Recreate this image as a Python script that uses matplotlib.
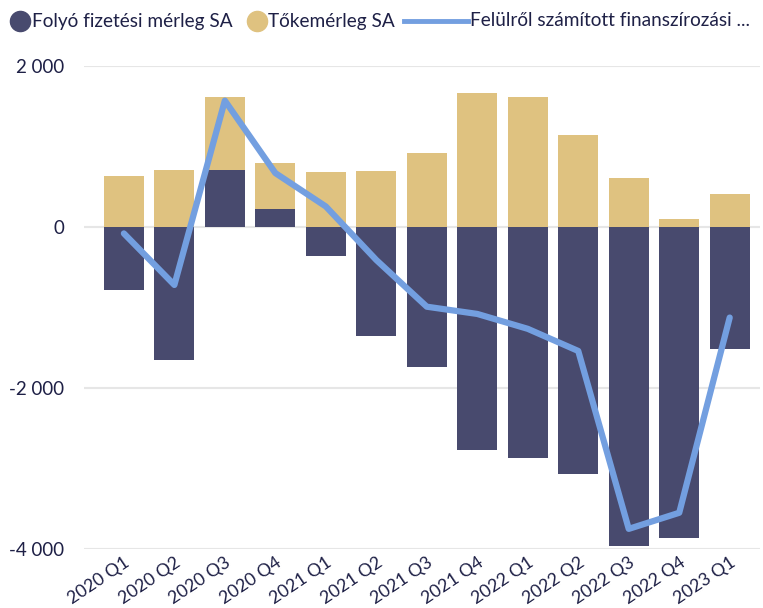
import matplotlib.pyplot as plt
import numpy as np
from matplotlib.lines import Line2D

plt.rcParams['font.family'] = ['Lato', 'DejaVu Sans']

# quarters on the x axis
quarters = ['2020 Q1', '2020 Q2', '2020 Q3', '2020 Q4',
            '2021 Q1', '2021 Q2', '2021 Q3', '2021 Q4',
            '2022 Q1', '2022 Q2', '2022 Q3', '2022 Q4', '2023 Q1']

# current account SA
current_acc = [-780, -1650, 710, 225, -365, -1350, -1735, -2770,
               -2870, -3065, -3965, -3865, -1515]
# capital account SA
capital_acc = [635, 710, 905, 570, 685, 695, 920, 1665,
               1615, 1145, 610, 100, 410]
# financing from above
financing = [-80, -720, 1570, 670, 255, -410, -990, -1080,
             -1265, -1540, -3750, -3550, -1125]

labels = ['Folyó fizetési mérleg SA', 'Tőkemérleg SA',
          'Felülről számított finanszírozási ...']

dark = '#484A6E'
gold = '#DFC280'
blue = '#739FE0'
text_col = '#1E2046'

x = np.arange(len(quarters))
cur = np.array(current_acc)
cap = np.array(capital_acc)
# capital bar sits on top of the positive part of the current account
cap_bottom = np.where(cur > 0, cur, 0)

fig = plt.figure(figsize=(7.63, 6.08), dpi=100)
ax = fig.add_axes([84 / 763, 1 - 549 / 608, (760 - 84) / 763, (549 - 66) / 608])

ax.bar(x, cur, width=0.79, color=dark, zorder=2)
ax.bar(x, cap, width=0.79, bottom=cap_bottom, color=gold, zorder=2)
ax.plot(x, financing, color=blue, lw=4.5, solid_capstyle='round', zorder=3)

ax.set_xlim(-0.79, 12.6)
ax.set_ylim(-4000, 2000)
ax.set_yticks([-4000, -2000, 0, 2000])
ax.set_yticklabels(['-4 000', '-2 000', '0', '2 000'])
ax.set_xticks(x)
ax.set_xticklabels(quarters, rotation=34, ha='right', rotation_mode='anchor')
ax.tick_params(length=0, labelsize=13.5, colors=text_col)
ax.tick_params(axis='x', labelsize=12.8, pad=4)
ax.tick_params(axis='y', pad=14)
ax.grid(axis='y', color='#E6E6E6', lw=1.5, zorder=0)
for s in ax.spines.values():
    s.set_visible(False)

# legend row at the top
ly = 1 - 21 / 608
fs = 13.7
fig.add_artist(Line2D([20 / 763], [ly], marker='o', ms=14.5, color=dark, ls='none'))
fig.text(32 / 763, ly, labels[0], va='center', ha='left', fontsize=fs, color=text_col)
fig.add_artist(Line2D([257 / 763], [ly], marker='o', ms=14.5, color=gold, ls='none'))
fig.text(268 / 763, ly, labels[1], va='center', ha='left', fontsize=fs, color=text_col)
fig.add_artist(Line2D([404 / 763, 468 / 763], [ly, ly], color=blue, lw=3.5))
fig.text(470 / 763, ly, labels[2], va='center', ha='left', fontsize=fs, color=text_col)

fig.savefig('out.png', dpi=100)
